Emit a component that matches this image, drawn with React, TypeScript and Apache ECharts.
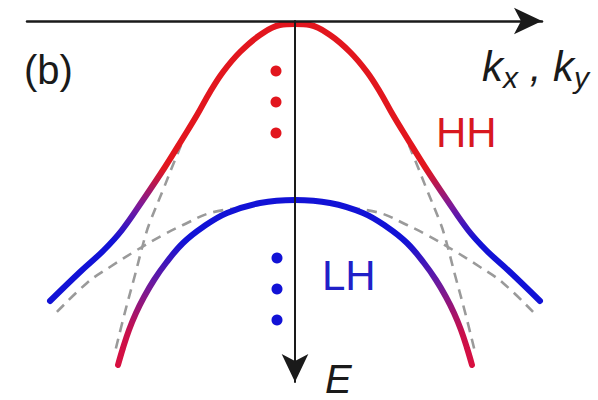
import React, { useEffect, useRef } from "react";
import * as echarts from "echarts";

// Valence-band dispersion near the zone centre. k runs to the right,
// E is measured downward from the band edge (top axis). Each band is
// listed for k <= 0 and mirrored, since E(k) = E(-k).

// Upper coupled band: heavy-hole like at small k, light-hole like far out
const upperBandK = [0, -15, -35, -55, -72, -85, -98, -112, -130, -152, -173, -191, -215, -245];
const upperBandE = [3, 4, 14, 31, 51, 71, 94, 117, 146, 179, 209, 229, 251, 280];

// Lower coupled band: light-hole like at small k, heavy-hole like far out
const lowerBandK = [0, -35, -68, -92, -112, -129, -141, -151, -159, -166, -172, -177];
const lowerBandE = [179, 182, 192, 206, 222, 242, 259, 276, 292, 309, 327, 344];

// Uncoupled heavy-hole parabola (visible part, left branch)
const hhBareK = [-98, -108, -120, -132, -145, -150, -160, -170, -180];
const hhBareE = [94, 111, 139, 169, 201, 216, 254, 291, 331];

// Uncoupled light-hole parabola (visible part, left branch)
const lhBareK = [-55, -85, -112, -132, -158, -185, -208, -242];
const lhBareE = [187, 192, 204, 214, 229, 246, 262, 295];

// Subband ladders below each band edge
const hhDotsK = [-19, -19, -19];
const hhDotsE = [50, 81, 112];
const lhDotsK = [-18, -18, -18];
const lhDotsE = [237, 268, 299];

const RED = "#e2161e";
const BLUE = "#1212d6";
const GREY = "#9a9a9a";
const INK = "#1a1a1a";

const pairs = (ks: number[], es: number[]) => ks.map((k, i) => [k, es[i]]);

const mirrored = (ks: number[], es: number[]) => {
  const left = pairs(ks, es).reverse();
  const right = ks.slice(1).map((k, i) => [-k, es[i + 1]]);
  return [...left, ...right];
};

const flip = (ks: number[], es: number[]) => ks.map((k, i) => [-k, es[i]]);

export default function App() {
  const ref = useRef<HTMLDivElement>(null);

  useEffect(() => {
    if (!ref.current) return;
    const chart = echarts.init(ref.current, undefined, { renderer: "svg" });

    const upperGrad = new echarts.graphic.LinearGradient(0, 0, 0, 1, [
      { offset: 0, color: RED },
      { offset: 0.52, color: RED },
      { offset: 0.66, color: "#7a1a9c" },
      { offset: 0.78, color: BLUE },
      { offset: 1, color: BLUE },
    ]);
    const lowerGrad = new echarts.graphic.LinearGradient(0, 0, 0, 1, [
      { offset: 0, color: BLUE },
      { offset: 0.25, color: BLUE },
      { offset: 0.5, color: "#6a1aa0" },
      { offset: 0.8, color: "#c8104c" },
      { offset: 1, color: "#d81040" },
    ]);

    const dashed = (data: number[][]) => ({
      type: "line",
      data,
      smooth: 0.4,
      symbol: "none",
      z: 1,
      lineStyle: { color: GREY, width: 2.6, type: [10, 7] },
    });

    const solid = (data: number[][], color: any) => ({
      type: "line",
      data,
      smooth: 0.4,
      symbol: "none",
      z: 3,
      lineStyle: { color, width: 6, cap: "round" },
    });

    const textBase = { fontFamily: "Liberation Sans" };

    chart.setOption({
      animation: false,
      backgroundColor: "#ffffff",
      grid: { left: 27, right: 56, top: 21, bottom: 18 },
      xAxis: {
        type: "value",
        min: -268,
        max: 247,
        position: "top",
        z: 10,
        axisLine: {
          onZero: false,
          lineStyle: { color: INK, width: 2.5 },
          symbol: ["none", "arrow"],
          symbolSize: [20, 28],
        },
        axisTick: { show: false },
        axisLabel: { show: false },
        splitLine: { show: false },
      },
      yAxis: {
        type: "value",
        min: 0,
        max: 361,
        inverse: true,
        z: 10,
        axisLine: {
          onZero: true,
          lineStyle: { color: INK, width: 2 },
          symbol: ["arrow", "none"],
          symbolSize: [20, 28],
        },
        axisTick: { show: false },
        axisLabel: { show: false },
        splitLine: { show: false },
      },
      series: [
        dashed(pairs(hhBareK, hhBareE)),
        dashed(flip(hhBareK, hhBareE)),
        dashed(pairs(lhBareK, lhBareE)),
        dashed(flip(lhBareK, lhBareE)),
        solid(mirrored(upperBandK, upperBandE), upperGrad),
        solid(mirrored(lowerBandK, lowerBandE), lowerGrad),
        {
          type: "scatter",
          data: pairs(hhDotsK, hhDotsE),
          symbolSize: 11,
          z: 4,
          itemStyle: { color: RED, opacity: 1 },
        },
        {
          type: "scatter",
          data: pairs(lhDotsK, lhDotsE),
          symbolSize: 11,
          z: 4,
          itemStyle: { color: BLUE, opacity: 1 },
        },
      ],
      graphic: [
        {
          type: "text",
          left: 24,
          top: 50,
          style: { ...textBase, text: "(b)", fontSize: 40, fill: INK },
        },
        {
          type: "text",
          left: 436,
          top: 111,
          style: { ...textBase, text: "HH", fontSize: 42, fill: "#d8181f" },
        },
        {
          type: "text",
          left: 322,
          top: 254,
          style: { ...textBase, text: "LH", fontSize: 42, fill: "#2020c8" },
        },
        {
          type: "text",
          left: 325,
          top: 359,
          style: {
            ...textBase,
            text: "E",
            fontSize: 40,
            fontStyle: "italic",
            fill: INK,
          },
        },
        {
          type: "text",
          left: 482,
          top: 40,
          style: {
            ...textBase,
            text: "{k|k}{s|x}{k| , k}{s|y}",
            fill: INK,
            rich: {
              k: { ...textBase, fontSize: 42, fontStyle: "italic", lineHeight: 48, fill: INK },
              s: {
                ...textBase,
                fontSize: 30,
                fontStyle: "italic",
                lineHeight: 48,
                padding: [22, 0, 0, 0],
                fill: INK,
              },
            },
          },
        },
      ],
    });

    return () => chart.dispose();
  }, []);

  return (
    <div
      ref={ref}
      style={{ position: "absolute", left: 0, top: 0, width: 598, height: 400 }}
    />
  );
}
